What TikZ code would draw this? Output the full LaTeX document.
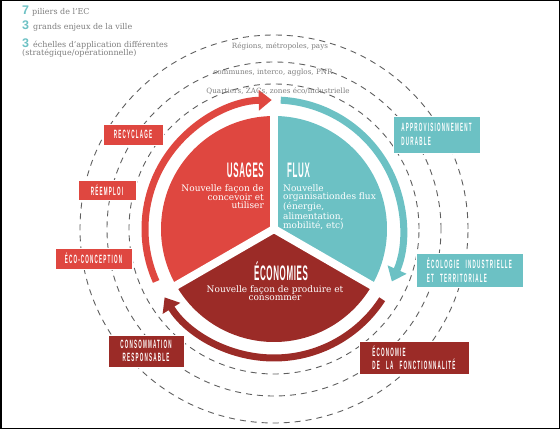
\documentclass[tikz,border=0pt]{standalone}
\usepackage{fontspec}
\setmainfont{DejaVu Serif}
\newfontfamily\titrefont[FakeStretch=0.38,LetterSpace=3]{Liberation Sans}
\newfontfamily\capsfont[FakeStretch=0.38,LetterSpace=10,WordSpace=2.5]{Liberation Sans}
\newfontfamily\chiffrefont{Liberation Sans}
\usetikzlibrary{arrows.meta,positioning}
\definecolor{rouge}{RGB}{223,71,64}
\definecolor{bleu}{RGB}{108,193,196}
\definecolor{bordeaux}{RGB}{155,43,39}
\definecolor{gristexte}{RGB}{125,125,125}
\definecolor{grisligne}{RGB}{95,95,95}
\tikzset{
  cercle/.style={draw=grisligne,line width=0.9pt,dash pattern=on 6pt off 5pt},
  fleche/.style={line width=7pt,-{Triangle[length=13pt,width=20pt]}},
  blanc/.style={draw=white,line width=8pt},
  titre/.style={text=white,inner sep=0pt,font=\titrefont\bfseries\fontsize{21}{21}\selectfont},
  corps/.style={text=white,inner sep=0pt,font=\fontsize{9}{8}\selectfont},
  echelle/.style={text=gristexte,inner sep=0pt,font=\fontsize{7.2}{8}\selectfont},
  legende/.style={text=gristexte,inner sep=0pt,font=\fontsize{8}{8}\selectfont},
  etiquette/.style={draw=white,line width=0.8pt,text=white,align=left,inner xsep=4pt,inner ysep=2pt,
                    font=\capsfont\bfseries\fontsize{12}{13.5}\selectfont},
}
\newcommand{\chiffre}[1]{{\chiffrefont\bfseries\color{bleu}\fontsize{12.5}{12.5}\selectfont #1}}

\begin{document}
\begin{tikzpicture}[x=1pt,y=1pt,font=\small]
  \useasboundingbox (0,0) rectangle (560,429);
  \draw[line width=1.5pt] (0.75,0.75) rectangle (559.25,428.25);
  % cercles des echelles, camembert et fleches
  \begin{scope}[shift={(274,200)}]
    \coordinate (c) at (0,0);
    \draw[cercle] (c) circle[radius=145pt];
    \draw[cercle] (c) circle[radius=167pt];
    \draw[cercle] (c) circle[radius=194pt];
    \fill[rouge] (c) -- (90:113pt) arc[start angle=90,end angle=210,radius=113pt] -- cycle;
    \fill[bleu] (c) -- (-30:113pt) arc[start angle=-30,end angle=90,radius=113pt] -- cycle;
    \fill[bordeaux] (c) -- (210:113pt) arc[start angle=210,end angle=330,radius=113pt] -- cycle;
    \foreach \a in {90,210,330} \draw[blanc] (c) -- (\a:116pt);
    \draw[fleche,rouge] (204:129pt) arc[start angle=204,end angle=91,radius=129pt];
    \draw[fleche,bleu] (87:129pt) arc[start angle=87,end angle=-24,radius=129pt];
    \draw[fleche,bordeaux] (-33:129pt) arc[start angle=-33,end angle=-148,radius=129pt];
  \end{scope}
  % legende
  \node[legende,anchor=base west] (piliers) at (22,414) {\chiffre{7}\hspace{3pt}piliers de l'EC};
  \node[legende,anchor=base west] (enjeux) at (22,399) {\chiffre{3}\hspace{4pt}grands enjeux de la ville};
  \node[legende,anchor=base west] (echelles) at (22,381) {\chiffre{3}\hspace{4pt}échelles d'application différentes};
  \node[legende,anchor=base west] (echelles2) at (22,373) {(stratégique/opérationnelle)};
  \node[echelle] (regions) at (280,383) {Régions, métropoles, pays};
  \node[echelle] (communes) at (273,356) {communes, interco, agglos, PNR};
  \node[echelle] (quartiers) at (278,338) {Quartiers, ZACs, zones éco/industrielle};
  % secteurs
  \node[titre,anchor=base east] (usages) at (264,251) {USAGES};
  \node[corps,align=right,below left=6pt and 0pt of usages.base east] (usagestxt) {Nouvelle façon de\\concevoir et\\utiliser};
  \node[titre,anchor=base west] (flux) at (287,251) {FLUX};
  \node[corps,align=left,below right=6pt and -4pt of flux.base west] (fluxtxt) {Nouvelle\\organisationdes flux\\(énergie,\\alimentation,\\mobilité, etc)};
  \node[titre,anchor=base] (economies) at (281,149) {ÉCONOMIES};
  \node[corps,align=center,below=5.5pt of economies.base,xshift=-6pt] (economiestxt) {Nouvelle façon de produire et\\consommer};
  % etiquettes
  \node[etiquette,fill=rouge,minimum width=60pt,minimum height=21pt] (recyclage) at (133,294.5) {RECYCLAGE};
  \node[etiquette,fill=rouge,minimum width=58pt,minimum height=20pt] (reemploi) at (107,239) {RÉEMPLOI};
  \node[etiquette,fill=rouge,minimum width=77pt,minimum height=21pt] (ecoconception) at (93.5,170.5) {ÉCO-CONCEPTION};
  \node[etiquette,fill=bordeaux,align=center,minimum width=76pt,minimum height=32pt] (consommation) at (146,78) {CONSOMMATION\\RESPONSABLE};
  \node[etiquette,fill=bordeaux,minimum width=110pt,minimum height=33pt] (fonctionnalite) at (414,71.5) {ÉCONOMIE\\DE LA FONCTIONNALITÉ};
  \node[etiquette,fill=bleu,minimum width=107pt,minimum height=34pt] (ecologie) at (469.5,159) {ÉCOLOGIE INDUSTRIELLE\\ET TERRITORIALE};
  \node[etiquette,fill=bleu,minimum width=87pt,minimum height=37pt] (appro) at (436.5,294.5) {APPROVISIONNEMENT\\DURABLE};
\end{tikzpicture}
\end{document}
